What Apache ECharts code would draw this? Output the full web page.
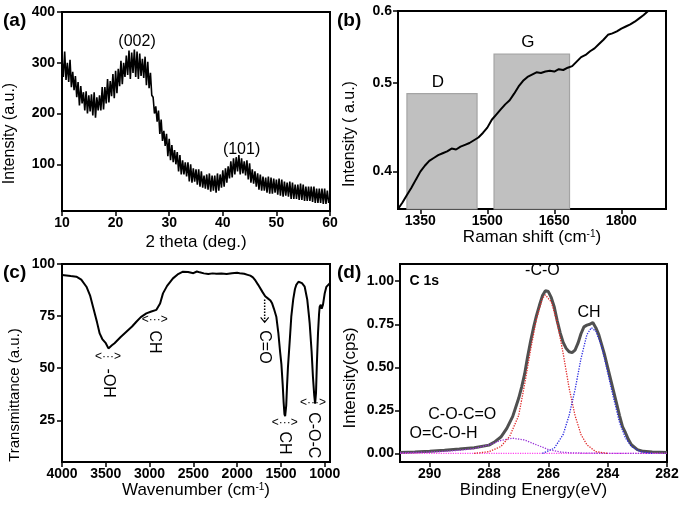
<!DOCTYPE html>
<html><head><meta charset="utf-8">
<script src="https://cdn.jsdelivr.net/npm/echarts@6.0.0/dist/echarts.min.js"></script>
<style>html,body{margin:0;padding:0;background:#fff}#main{width:685px;height:513px}</style>
</head><body><div id="main"></div>
<script>
const FONT = '"Liberation Sans", Arial, Helvetica, sans-serif';

// ---------- (a) XRD ----------
const xrdThetaStart = 10, xrdThetaStep = 0.25;
const xrdIntensity = [
 306, 272, 322, 266,
 300, 262, 306, 252,
 282, 246, 274, 232,
 262, 216, 254, 220,
 242, 206, 244, 200,
 236, 204, 238, 196,
 242, 192, 232, 206,
 236, 206, 252, 208,
 252, 220, 268, 222,
 264, 234, 278, 230,
 284, 240, 288, 254,
 304, 258, 300, 272,
 314, 276, 324, 268,
 320, 280, 326, 272,
 322, 268, 318, 274,
 308, 270, 312, 256,
 302, 250, 280, 236,
 232, 200, 214, 184,
 206, 160, 188, 146,
 166, 136, 160, 116,
 150, 108, 138, 104,
 128, 100, 124, 86,
 118, 80, 108, 80,
 104, 76, 104, 66,
 100, 64, 92, 66,
 90, 60, 90, 56,
 86, 54, 78, 52,
 80, 50, 82, 46,
 78, 48, 78, 44,
 82, 48, 80, 54,
 88, 56, 92, 64,
 96, 72, 106, 74,
 112, 80, 114, 86,
 118, 80, 112, 82,
 106, 78, 108, 70,
 102, 64, 90, 62,
 86, 56, 82, 50,
 80, 48, 76, 48,
 74, 44, 76, 42,
 74, 42, 72, 44,
 70, 40, 72, 38,
 70, 36, 66, 38,
 64, 36, 66, 32,
 64, 32, 60, 32,
 60, 30, 62, 30,
 60, 28, 56, 28,
 56, 28, 56, 26,
 56, 24, 52, 24,
 52, 24, 52, 22,
 52, 22, 48, 24,
 36
];
const xrdTicksX = [10, 20, 30, 40, 50, 60];
const xrdTicksY = [100, 200, 300, 400];
const xrdPeakNames = ['(002)', '(101)'];
const xrdPeakX = [24, 43.5];
const xrdPeakY = [342, 128];

// ---------- (b) Raman ----------
const ramanShift = [1300,1310,1320,1330,1340,1350,1360,1370,1380,1390,1400,1410,1420,1430,1440,1450,1460,1470,1480,1490,
 1500,1510,1520,1530,1540,1550,1560,1570,1580,1590,1600,1610,1620,1630,1640,1650,1660,1670,1680,1690,
 1700,1710,1720,1730,1740,1750,1760,1770,1780,1790,1800,1810,1820,1830,1840,1850,1860];
const ramanIntensity = [0.364,0.370,0.377,0.384,0.392,0.400,0.406,0.411,0.414,0.417,0.419,0.421,0.424,0.423,0.426,0.428,0.430,0.433,0.436,0.441,
 0.447,0.456,0.462,0.468,0.474,0.479,0.487,0.496,0.503,0.508,0.511,0.514,0.513,0.515,0.516,0.515,0.518,0.517,0.520,0.522,
 0.528,0.534,0.537,0.542,0.546,0.552,0.558,0.565,0.567,0.570,0.574,0.577,0.580,0.584,0.589,0.594,0.600];
const ramanTicksX = [1350, 1500, 1650, 1800];
const ramanTicksY = [0.4, 0.5, 0.6];
const ramanBandNames = ['D', 'G'];
const ramanBandFrom = [1320, 1515];
const ramanBandTo = [1477, 1684];
const ramanBandTop = [0.487, 0.538];
const ramanMin = 0.364, ramanMax = 0.6;

// ---------- (c) FTIR ----------
const ftirWavenumber = [4000,3900,3836,3780,3721,3680,3646,3600,3570,3540,3520,3500,3470,3455,3430,3400,3379,3330,3265,3200,
 3151,3100,3037,2980,2922,2880,2847,2800,2733,2680,2619,2560,2500,2460,2428,2380,2330,2280,2237,2180,
 2120,2060,2000,1971,1920,1880,1850,1820,1790,1760,1743,1710,1680,1650,1620,1600,1580,1553,1530,1510,
 1495,1480,1470,1460,1452,1440,1430,1420,1400,1382,1360,1340,1325,1300,1286,1260,1229,1200,1180,1172,
 1150,1135,1120,1110,1100,1090,1077,1065,1058,1045,1035,1020,1000,982,960,944];
const ftirTransmittance = [94.7,94.2,93.9,92.5,89.1,85,79.5,72,66.7,64,63,62,59.5,59.5,61,62,62.6,65,67.5,70,
 72.3,74.5,76.3,77.2,78,81,85.9,89.5,93.1,95,96.3,96.2,95.6,96.4,96.0,95.5,95.2,95.5,95.3,95.4,
 95.2,95.6,95.8,95.6,95.3,94.8,94.4,93.6,92,90,89.1,86.5,84.5,83.5,82.5,81,78.5,74.7,67,58,
 52,42,34,28,27,32,42,50.6,63,74.7,83,88,90,91.5,91.6,90.8,89.1,83,75,71.5,
 58,46,37,33,38,52,66.7,76,79.5,80.5,78.5,80.5,86,89,90,90.7];
const ftirTicksX = [1000, 1500, 2000, 2500, 3000, 3500, 4000];
const ftirTicksY = [25, 50, 75, 100];
const ftirLabelText = ['-OH', 'CH', 'C=O', 'CH', 'C-O-C'];
const ftirLabelX = [3475, 2942, 1686, 1457, 1134];
const ftirLabelY = [42.8, 62.6, 60.2, 14.1, 17.8];
const ftirArrowX = [3475, 2942, 1457, 1134];
const ftirArrowY = [55.4, 73.4, 23.7, 33.3];
const ftirCOArrowX = 1686, ftirCOArrowFrom = 83, ftirCOArrowTo = 72;

// ---------- (d) XPS C 1s ----------
const xpsEnergy = [291.0,290.5,290.0,289.5,289.0,288.5,288.0,287.8,287.6,287.4,287.2,287.0,286.9,286.8,286.7,286.6,286.5,286.4,286.3,286.2,
 286.1,286.05,286.0,285.9,285.8,285.7,285.6,285.5,285.4,285.3,285.2,285.1,285.0,284.9,284.8,284.7,284.6,284.5,284.4,284.3,
 284.2,284.1,284.0,283.9,283.8,283.7,283.6,283.5,283.4,283.3,283.2,283.0,282.8,282.5,282.0];
const xpsEnvelope = [0.005,0.008,0.012,0.018,0.025,0.033,0.048,0.068,0.095,0.145,0.215,0.32,0.385,0.46,0.56,0.65,0.73,0.80,0.86,0.915,
 0.945,0.955,0.94,0.905,0.85,0.77,0.70,0.645,0.61,0.59,0.585,0.60,0.64,0.695,0.735,0.745,0.75,0.76,0.73,0.69,
 0.63,0.57,0.50,0.43,0.36,0.29,0.22,0.155,0.12,0.08,0.05,0.022,0.012,0.008,0.005];
const xpsCOEnergy = [288.5,288.0,287.6,287.3,287.0,286.8,286.6,286.4,286.2,286.1,285.9,285.7,285.5,285.3,285.1,284.9,284.7,284.4,284.0];
const xpsCOIntensity = [0.0,0.01,0.04,0.10,0.22,0.40,0.60,0.78,0.90,0.92,0.88,0.76,0.58,0.38,0.22,0.11,0.05,0.01,0.0];
const xpsCHEnergy = [286.2,285.8,285.5,285.3,285.1,284.9,284.7,284.55,284.4,284.2,284.0,283.8,283.6,283.4,283.2,282.9,282.5];
const xpsCHIntensity = [0.0,0.03,0.11,0.22,0.37,0.55,0.69,0.73,0.71,0.62,0.47,0.32,0.18,0.09,0.04,0.01,0.0];
const xpsOCOEnergy = [291,290,289.5,289,288.5,288,287.6,287.2,286.8,286.4,286.0,285.6,285.2,284.5,283.5,282.5,282];
const xpsOCOIntensity = [0.003,0.008,0.012,0.018,0.028,0.05,0.075,0.088,0.078,0.05,0.022,0.008,0.003,0.001,0,0,0];
const xpsBaseEnergy = [291, 282];
const xpsBaseIntensity = [0, 0];
const xpsTicksX = [282, 284, 286, 288, 290];
const xpsTicksY = [0, 0.25, 0.5, 0.75, 1.0];
const xpsLabelText = ['C 1s', '-C-O', 'CH', 'C-O-C=O', 'O=C-O-H'];
const xpsLabelX = [290.18, 286.2, 284.63, 288.9, 289.53];
const xpsLabelY = [1.0, 1.06, 0.82, 0.225, 0.116];

// ---------- helpers ----------
const pair = (xs, ys) => xs.map((x, i) => [x, ys[i]]);
function mkAxis(gridIndex, o) {
  return {
    gridIndex, type: o.type || 'value', min: o.min, max: o.max, inverse: !!o.inverse,
    name: o.name, nameLocation: 'middle', nameGap: o.nameGap,
    nameTextStyle: { color: '#000', fontFamily: FONT, fontSize: o.nameSize || 17, padding: o.namePad || 0,
      rich: { sup: { fontSize: 10, verticalAlign: 'top', fontFamily: FONT, color: '#000', padding: [0, 0, 6, 0] } } },
    splitLine: { show: false }, minorTick: { show: false },
    axisLine: { show: true, onZero: false, lineStyle: { color: '#000', width: 2 } },
    axisTick: { show: true, inside: false, length: 5, customValues: o.ticks, lineStyle: { color: '#000', width: 1.5 } },
    axisLabel: { show: true, color: '#000', fontFamily: FONT, fontWeight: 'bold', fontSize: 14,
      margin: o.margin, customValues: o.ticks, formatter: o.fmt || (v => String(v)) }
  };
}
const gridBase = { show: true, borderColor: '#000', borderWidth: 2, backgroundColor: 'transparent', containLabel: false, outerBoundsMode: 'none' };

const chart = echarts.init(document.getElementById('main'), null, { renderer: 'canvas' });
const option = {
  animation: false,
  backgroundColor: '#fff',
  grid: [
    Object.assign({ left: 62, top: 12, width: 268, height: 199 }, gridBase),
    Object.assign({ left: 398, top: 11, width: 268, height: 198 }, gridBase),
    Object.assign({ left: 62, top: 264, width: 268, height: 198 }, gridBase),
    Object.assign({ left: 400, top: 264, width: 267, height: 198 }, gridBase)
  ],
  xAxis: [
    mkAxis(0, { min: 10, max: 60, ticks: xrdTicksX, margin: 5, name: '2 theta (deg.)', nameGap: 23 }),
    mkAxis(1, { min: 1300, max: 1900, ticks: ramanTicksX, margin: 5, name: 'Raman shift (cm{sup|-1})', nameGap: 19 }),
    mkAxis(2, { min: 940, max: 4000, inverse: true, ticks: ftirTicksX, margin: 5, name: 'Wavenumber (cm{sup|-1})', nameGap: 18 }),
    mkAxis(3, { min: 282, max: 291, inverse: true, ticks: xpsTicksX, margin: 5, name: 'Binding Energy(eV)', nameGap: 19 })
  ],
  yAxis: [
    mkAxis(0, { min: 8, max: 400, ticks: xrdTicksY, margin: 7, name: 'Intensity (a.u.)', nameGap: 44, nameSize: 16, namePad: [0, 44, 0, 0] }),
    mkAxis(1, { type: 'log', min: ramanMin, max: ramanMax, ticks: ramanTicksY, margin: 6, fmt: v => Number(v).toFixed(1), name: 'Intensity ( a.u.)', nameGap: 40, nameSize: 16, namePad: [0, 48, 0, 0] }),
    mkAxis(2, { min: 5, max: 100, ticks: ftirTicksY, margin: 7, name: 'Transmittance (a.u.)', nameGap: 40, nameSize: 15, namePad: [0, 64, 0, 0] }),
    mkAxis(3, { min: -0.05, max: 1.1, ticks: xpsTicksY, margin: 6, fmt: v => Number(v).toFixed(2), name: 'Intensity(cps)', nameGap: 41, nameSize: 17, namePad: [0, 30, 0, 0] })
  ],
  graphic: [
    { type: 'text', left: 3, top: 11, style: { text: '(a)', font: 'bold 19px ' + FONT, fill: '#000' } },
    { type: 'text', left: 337, top: 11, style: { text: '(b)', font: 'bold 19px ' + FONT, fill: '#000' } },
    { type: 'text', left: 3, top: 263, style: { text: '(c)', font: 'bold 19px ' + FONT, fill: '#000' } },
    { type: 'text', left: 337, top: 263, style: { text: '(d)', font: 'bold 19px ' + FONT, fill: '#000' } }
  ],
  series: [
    // (a)
    { type: 'line', xAxisIndex: 0, yAxisIndex: 0, symbol: 'none', clip: true,
      lineStyle: { color: '#000', width: 1.6 },
      data: xrdIntensity.map((v, i) => [xrdThetaStart + i * xrdThetaStep, v]) },
    { type: 'custom', xAxisIndex: 0, yAxisIndex: 0, data: pair(xrdPeakX, xrdPeakY),
      renderItem: (params, api) => {
        const p = api.coord([xrdPeakX[params.dataIndex], xrdPeakY[params.dataIndex]]);
        return { type: 'text', x: p[0], y: p[1], style: { text: xrdPeakNames[params.dataIndex], font: '16px ' + FONT, fill: '#000', align: 'center', verticalAlign: 'middle' } };
      } },
    // (b) bands
    { type: 'custom', xAxisIndex: 1, yAxisIndex: 1, z: 1, data: ramanBandFrom.map((f, i) => [f, ramanBandTop[i]]),
      renderItem: (params, api) => {
        const i = params.dataIndex;
        const p0 = api.coord([ramanBandFrom[i], ramanMin]);
        const p1 = api.coord([ramanBandTo[i], ramanBandTop[i]]);
        const pl = api.coord([(ramanBandFrom[i] + ramanBandTo[i]) / 2, ramanBandTop[i]]);
        return { type: 'group', children: [
          { type: 'rect', shape: { x: p0[0], y: p1[1], width: p1[0] - p0[0], height: p0[1] - p1[1] },
            style: { fill: '#c0c0c0', stroke: '#a4a4a4', lineWidth: 1.2 } },
          { type: 'text', x: pl[0] - 4, y: p1[1] - 3, style: { text: ramanBandNames[i], font: '17px ' + FONT, fill: '#000', align: 'center', verticalAlign: 'bottom' } }
        ] };
      } },
    { type: 'line', xAxisIndex: 1, yAxisIndex: 1, z: 3, symbol: 'none', clip: true,
      lineStyle: { color: '#000', width: 2 }, data: pair(ramanShift, ramanIntensity) },
    // (c)
    { type: 'line', xAxisIndex: 2, yAxisIndex: 2, symbol: 'none', clip: true,
      lineStyle: { color: '#000', width: 2 }, data: pair(ftirWavenumber, ftirTransmittance) },
    { type: 'custom', xAxisIndex: 2, yAxisIndex: 2, data: pair(ftirLabelX, ftirLabelY),
      renderItem: (params, api) => {
        const i = params.dataIndex;
        const p = api.coord([ftirLabelX[i], ftirLabelY[i]]);
        return { type: 'text', x: p[0], y: p[1], rotation: -Math.PI / 2,
          style: { text: ftirLabelText[i], font: '16px ' + FONT, fill: '#000', align: 'center', verticalAlign: 'middle' } };
      } },
    { type: 'custom', xAxisIndex: 2, yAxisIndex: 2, data: pair(ftirArrowX, ftirArrowY),
      renderItem: (params, api) => {
        const i = params.dataIndex;
        const p = api.coord([ftirArrowX[i], ftirArrowY[i]]);
        return { type: 'text', x: p[0], y: p[1],
          style: { text: '<···>', font: '12px ' + FONT, fill: '#000', align: 'center', verticalAlign: 'middle' } };
      } },
    { type: 'custom', xAxisIndex: 2, yAxisIndex: 2, data: [[ftirCOArrowX, ftirCOArrowFrom]],
      renderItem: (params, api) => {
        const a = api.coord([ftirCOArrowX, ftirCOArrowFrom]);
        const b = api.coord([ftirCOArrowX, ftirCOArrowTo]);
        return { type: 'group', children: [
          { type: 'line', shape: { x1: a[0], y1: a[1], x2: b[0], y2: b[1] }, style: { stroke: '#000', lineWidth: 1.5, lineDash: [1.5, 1.5] } },
          { type: 'polyline', shape: { points: [[b[0] - 4, b[1] - 5], [b[0], b[1]], [b[0] + 4, b[1] - 5]] }, style: { stroke: '#000', lineWidth: 1.2, fill: null } }
        ] };
      } },
    // (d)
    { type: 'line', xAxisIndex: 3, yAxisIndex: 3, symbol: 'none', clip: true, z: 2,
      lineStyle: { color: '#505050', width: 3 }, data: pair(xpsEnergy, xpsEnvelope) },
    { type: 'line', xAxisIndex: 3, yAxisIndex: 3, symbol: 'none', clip: true, z: 3,
      lineStyle: { color: '#ff44ee', width: 1.2, type: 'dotted' }, data: pair(xpsBaseEnergy, xpsBaseIntensity) },
    { type: 'line', xAxisIndex: 3, yAxisIndex: 3, symbol: 'none', clip: true, z: 3,
      lineStyle: { color: '#9a35d8', width: 1.3, type: 'dotted' }, data: pair(xpsOCOEnergy, xpsOCOIntensity) },
    { type: 'line', xAxisIndex: 3, yAxisIndex: 3, symbol: 'none', clip: true, z: 3,
      lineStyle: { color: '#e02828', width: 1.3, type: 'dotted' }, data: pair(xpsCOEnergy, xpsCOIntensity) },
    { type: 'line', xAxisIndex: 3, yAxisIndex: 3, symbol: 'none', clip: true, z: 3,
      lineStyle: { color: '#2b2be0', width: 1.3, type: 'dotted' }, data: pair(xpsCHEnergy, xpsCHIntensity) },
    { type: 'custom', xAxisIndex: 3, yAxisIndex: 3, data: pair(xpsLabelX, xpsLabelY),
      renderItem: (params, api) => {
        const i = params.dataIndex;
        const p = api.coord([xpsLabelX[i], xpsLabelY[i]]);
        return { type: 'text', x: p[0], y: p[1],
          style: { text: xpsLabelText[i], font: (i === 0 ? 'bold 14px ' : '16px ') + FONT, fill: '#000', align: 'center', verticalAlign: 'middle' } };
      } }
  ]
};
chart.setOption(option);
</script>
</body></html>
